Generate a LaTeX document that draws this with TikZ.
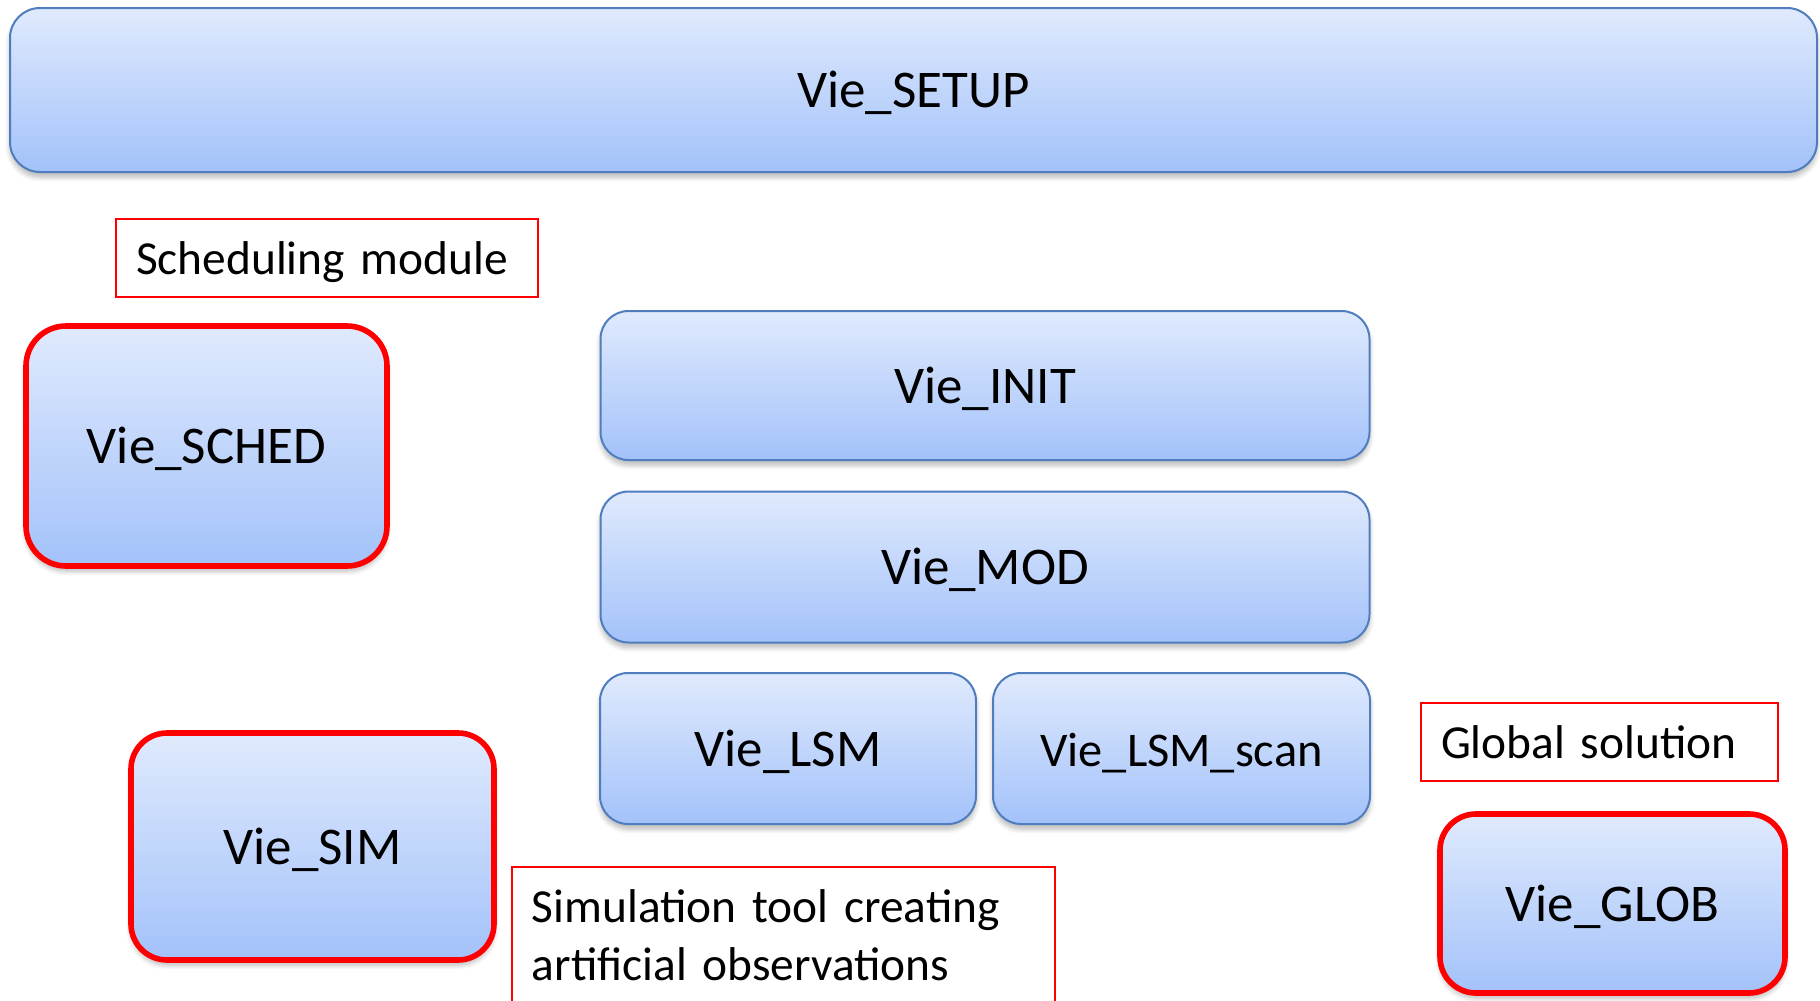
\documentclass[tikz,border=0pt]{standalone}
\usepackage{fontspec}
\setmainfont{Carlito}
\usetikzlibrary{shadows.blur}
\definecolor{boxtop}{RGB}{224,234,253}
\definecolor{boxbot}{RGB}{163,194,250}
\definecolor{boxline}{RGB}{79,125,190}
\definecolor{redline}{RGB}{255,0,0}
\tikzset{
  modbox/.style={draw=boxline, line width=1pt, top color=boxtop, bottom color=boxbot,
    rounded corners=14pt, inner sep=0pt, font=\fontsize{26.5}{31}\selectfont,
    text height=21pt, text depth=3.2pt,
    blur shadow={shadow xshift=0pt, shadow yshift=-2.5pt, shadow blur steps=6, shadow opacity=28, shadow blur radius=2.5pt}},
  keybox/.style={modbox, draw=redline, line width=2.8pt, rounded corners=20pt},
  lblbox/.style={draw=redline, line width=0.8pt, fill=white, inner xsep=10pt, inner ysep=0pt,
    align=left, font=\fontsize{23.7}{29}\selectfont}
}
\begin{document}
\begin{tikzpicture}[x=0.5pt, y=-0.5pt]
\useasboundingbox (0,0) rectangle (1820,1001);
\node[modbox, rounded corners=15pt, minimum width=903.5pt, minimum height=82pt] (setup) at (913.5,90) {Vie\_SETUP};
\node[keybox, minimum width=180.5pt, minimum height=120pt] (sched) at (206.5,446) {Vie\_SCHED};
\node[modbox, minimum width=384.5pt, minimum height=74.5pt] (init) at (985,385.5) {Vie\_INIT};
\node[modbox, minimum width=384.5pt, minimum height=75.5pt] (mod) at (985,567) {Vie\_MOD};
\node[modbox, minimum width=188pt, minimum height=75.5pt] (lsm) at (788,748.5) {Vie\_LSM};
\node[modbox, minimum width=188.5pt, minimum height=75.5pt, font=\fontsize{24.2}{29}\selectfont] (lsmscan) at (1181.5,748.5) {Vie\_LSM\_scan};
\node[keybox, rounded corners=18pt, minimum width=181.5pt, minimum height=113.5pt] (sim) at (312.5,846.5) {Vie\_SIM};
\node[keybox, rounded corners=18pt, minimum width=172.5pt, minimum height=89.5pt] (glob) at (1612.5,903.5) {Vie\_GLOB};
\node[lblbox, text width=191pt, minimum height=39pt, text height=16pt, text depth=0pt] (schedlbl) at (327,258) {Scheduling module};
\node[lblbox, text width=158.5pt, minimum height=39pt, text height=16pt, text depth=0pt] (globlbl) at (1599.5,742) {Global solution};
\node[lblbox, text width=251.5pt, minimum height=68pt, anchor=north west] (simlbl) at (511,866) {Simulation tool creating\\artificial observations};
\end{tikzpicture}
\end{document}
